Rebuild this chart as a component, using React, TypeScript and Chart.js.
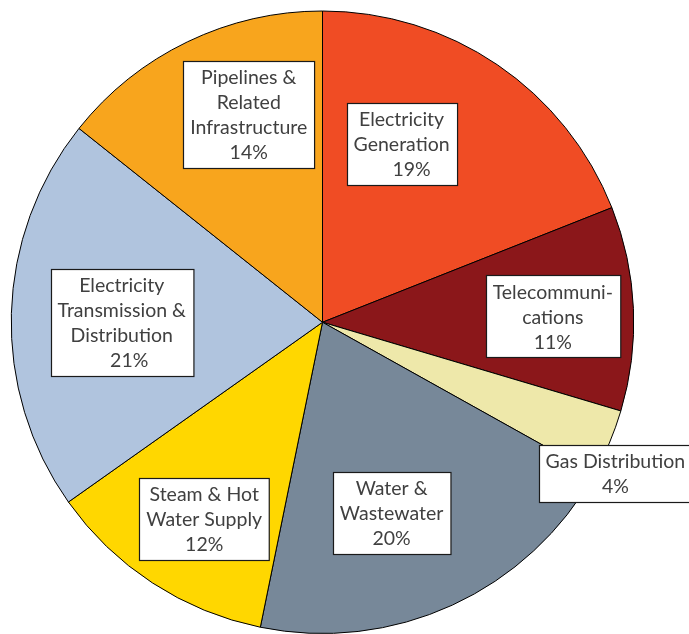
import React, { useEffect, useRef } from "react";
import { Chart, registerables } from "chart.js";

Chart.register(...registerables);

const categories = [
  "Electricity Generation",
  "Telecommunications",
  "Gas Distribution",
  "Water & Wastewater",
  "Steam & Hot Water Supply",
  "Electricity Transmission & Distribution",
  "Pipelines & Related Infrastructure",
];
const shares = [19.0, 10.6, 3.5, 20.1, 12.0, 20.5, 14.3];
const percentLabels = ["19%", "11%", "4%", "20%", "12%", "21%", "14%"];
const labelLines = [
  ["Electricity", "Generation", "    19%"],
  ["Telecommuni-", "cations", "11%"],
  ["Gas Distribution", "4%"],
  ["Water &", "Wastewater", "20%"],
  ["Steam & Hot", "Water Supply", "12%"],
  ["Electricity", "Transmission &", "Distribution", "   21%"],
  ["Pipelines &", "Related", "Infrastructure", "14%"],
];
const colors = ["#F04C24", "#8B171A", "#EEE8AA", "#778899", "#FFD700", "#B0C4DE", "#F8A51D"];
// label box centres, relative to the pie centre, in units of the pie radius
const labelOffsets = [
  [0.254, -0.572],
  [0.74, -0.019],
  [0.941, 0.485],
  [0.222, 0.613],
  [-0.38, 0.631],
  [-0.645, 0.001],
  [-0.237, -0.669],
];

const FONT_SIZE = 19.5;
const LINE_H = 25;
const FONT = `${FONT_SIZE}px Lato, "Open Sans", sans-serif`;

const labelPlugin = {
  id: "boxLabels",
  afterDatasetsDraw(chart: any) {
    const meta = chart.getDatasetMeta(0);
    const ctx: CanvasRenderingContext2D = chart.ctx;
    ctx.save();
    ctx.font = FONT;
    meta.data.forEach((arc: any, i: number) => {
      const lines = labelLines[i];
      const r = arc.outerRadius;
      const cx = arc.x + labelOffsets[i][0] * r;
      const cy = arc.y + labelOffsets[i][1] * r;
      const w = Math.max(...lines.map((l) => ctx.measureText(l).width)) + 14;
      const h = lines.length * LINE_H + 7;
      const x0 = Math.round(cx - w / 2) + 0.5;
      const y0 = Math.round(cy - h / 2) + 0.5;
      ctx.fillStyle = "#ffffff";
      ctx.fillRect(x0, y0, w, h);
      ctx.strokeStyle = "#1a1a1a";
      ctx.lineWidth = 1.2;
      ctx.strokeRect(x0, y0, w, h);
      ctx.fillStyle = "#404040";
      ctx.textAlign = "center";
      ctx.textBaseline = "middle";
      const top = cy - ((lines.length - 1) * LINE_H) / 2;
      lines.forEach((l, k) => {
        ctx.fillText(l, cx, top + k * LINE_H + 1);
      });
    });
    ctx.restore();
  },
};

export default function App() {
  const ref = useRef<HTMLCanvasElement>(null);
  useEffect(() => {
    document.body.style.margin = "0";
    const chart = new Chart(ref.current!, {
      type: "pie",
      data: {
        labels: categories.map((c, i) => `${c} ${percentLabels[i]}`),
        datasets: [
          {
            data: shares,
            backgroundColor: colors,
            borderColor: "#000000",
            borderWidth: 1,
          },
        ],
      },
      options: {
        responsive: false,
        animation: false,
        layout: { padding: { left: 10.5, top: 10.5, right: 54.5, bottom: 0 } },
        plugins: {
          legend: { display: false },
          tooltip: { enabled: false },
          title: { display: false },
        },
      },
      plugins: [labelPlugin],
    });
    return () => chart.destroy();
  }, []);
  return (
    <div style={{ position: "absolute", left: 0, top: 0, width: 689, height: 634, background: "#fff" }}>
      <canvas ref={ref} width={689} height={634} style={{ width: 689, height: 634, display: "block" }} />
    </div>
  );
}
